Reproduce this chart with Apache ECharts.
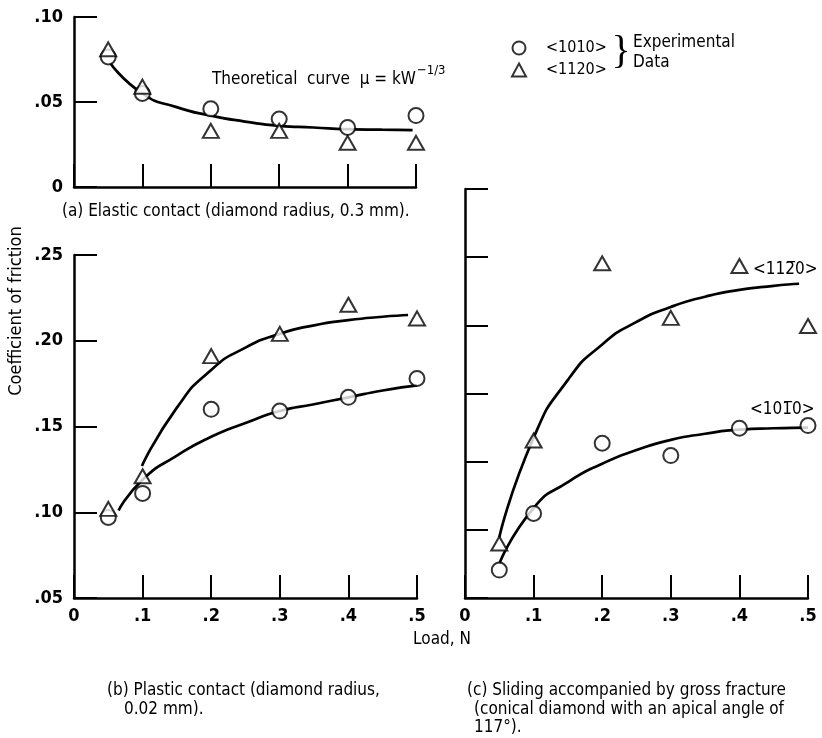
<!DOCTYPE html>
<html>
<head>
<meta charset="utf-8">
<title>Coefficient of friction vs load</title>
<script src="https://cdn.jsdelivr.net/npm/echarts@6/dist/echarts.min.js"></script>
<style>
  html, body { margin: 0; padding: 0; background: #fff; }
  #main { width: 822px; height: 738px; }
</style>
</head>
<body>
<div id="main"></div>
<script>
// loads (N) where the measurements were taken
var loads = [0.05, 0.1, 0.2, 0.3, 0.4, 0.5];

// (a) elastic contact
var aCircle   = [0.0765, 0.055, 0.046, 0.040, 0.035, 0.042];
var aTriangle = [0.081, 0.059, 0.033, 0.033, 0.026, 0.026];
var aCurve = [[0.053, 0.073], [0.1, 0.055], [0.15, 0.047], [0.2, 0.042], [0.25, 0.0385],
              [0.3, 0.036], [0.35, 0.035], [0.4, 0.034], [0.45, 0.0337], [0.495, 0.0335]];

// (b) plastic contact
var bCircle   = [0.097, 0.111, 0.160, 0.159, 0.167, 0.178];
var bTriangle = [0.102, 0.121, 0.191, 0.204, 0.221, 0.213];
var bCurveTri = [[0.099, 0.127], [0.15, 0.161], [0.2, 0.183], [0.25, 0.196], [0.3, 0.204],
                 [0.35, 0.209], [0.4, 0.212], [0.45, 0.214], [0.487, 0.215]];
var bCurveCir = [[0.065, 0.101], [0.1, 0.119], [0.15, 0.133], [0.2, 0.144], [0.25, 0.152],
                 [0.3, 0.159], [0.35, 0.163], [0.4, 0.167], [0.45, 0.171], [0.5, 0.174]];

// (c) gross fracture (unlabelled y scale, tick units)
var cCircle   = [0.41, 1.24, 2.27, 2.09, 2.49, 2.53];
var cTriangle = [0.80, 2.31, 4.91, 4.11, 4.87, 3.99];
var cCurveTri = [[0.05, 0.89], [0.1, 2.35], [0.15, 3.2], [0.2, 3.72], [0.25, 4.05],
                 [0.3, 4.27], [0.35, 4.42], [0.4, 4.52], [0.45, 4.58], [0.487, 4.61]];
var cCurveCir = [[0.05, 0.5], [0.1, 1.32], [0.15, 1.7], [0.2, 1.97], [0.25, 2.17],
                 [0.3, 2.32], [0.35, 2.41], [0.4, 2.47], [0.45, 2.49], [0.5, 2.5]];

var FONT = '"Liberation Sans Narrow", "DejaVu Sans Condensed", "Liberation Sans", sans-serif';

function pairs(ys) {
  return loads.map(function (x, i) { return [x, ys[i]]; });
}
function fmtX(v) { return v === 0 ? '0' : v.toFixed(1).replace(/^0/, ''); }
function fmtY(v) { return v === 0 ? '0' : v.toFixed(2).replace(/^0/, ''); }

function xAxis(gi, showLabel) {
  return {
    type: 'value', gridIndex: gi, min: 0, max: 0.5, interval: 0.1,
    axisLine: { onZero: false, lineStyle: { color: '#000', width: 2.5 } },
    axisTick: { inside: true, length: 23, lineStyle: { color: '#000', width: 2 } },
    splitLine: { show: false },
    axisLabel: { show: showLabel, formatter: fmtX, color: '#000', fontSize: 18,
                 fontWeight: 'bold', fontFamily: FONT, margin: 9 }
  };
}
function yAxis(gi, min, max, step, showLabel) {
  return {
    type: 'value', gridIndex: gi, min: min, max: max, interval: step,
    axisLine: { onZero: false, lineStyle: { color: '#000', width: 2.5 } },
    axisTick: { inside: true, length: 23, lineStyle: { color: '#000', width: 2 } },
    splitLine: { show: false },
    axisLabel: { show: showLabel, formatter: fmtY, color: '#000', fontSize: 18,
                 fontWeight: 'bold', fontFamily: FONT, margin: 11 }
  };
}

var markStyle = { color: '#fff', borderColor: '#000', borderWidth: 2 };
function circles(gi, ys) {
  return { name: '<1010>', type: 'scatter', xAxisIndex: gi, yAxisIndex: gi,
           symbol: 'circle', symbolSize: 15, itemStyle: markStyle, z: 5, data: pairs(ys) };
}
function triangles(gi, ys) {
  return { name: '<1120>', type: 'scatter', xAxisIndex: gi, yAxisIndex: gi,
           symbol: 'triangle', symbolSize: [16, 14], itemStyle: markStyle, z: 6, data: pairs(ys) };
}
function curve(gi, pts) {
  return { type: 'line', xAxisIndex: gi, yAxisIndex: gi, smooth: 0.6,
           showSymbol: false, silent: true, lineStyle: { color: '#000', width: 2.7 }, z: 3, data: pts };
}

function label(txt, x, y, size, align, extra) {
  var o = { type: 'text', x: x, y: y,
            style: { text: txt, font: size + 'px ' + FONT, fill: '#000',
                     textAlign: align || 'left', textVerticalAlign: 'middle' } };
  if (extra) { for (var k in extra) o[k] = extra[k]; }
  return o;
}

// width of the formula text, so the exponent sits right after it
var theory = 'Theoretical  curve  \u03bc = kW';
var ctx = document.createElement('canvas').getContext('2d');
ctx.font = '17px ' + FONT;
var theoryEnd = 212 + ctx.measureText(theory).width + 1;

var chart = echarts.init(document.getElementById('main'));
chart.setOption({
  animation: false,
  backgroundColor: '#fff',
  grid: [
    { left: 74, top: 17, width: 342, height: 170 },
    { left: 74, top: 255, width: 343, height: 343 },
    { left: 465, top: 189, width: 343, height: 409 }
  ],
  xAxis: [xAxis(0, false), xAxis(1, true), xAxis(2, true)],
  yAxis: [yAxis(0, 0, 0.1, 0.05, true), yAxis(1, 0.05, 0.25, 0.05, true), yAxis(2, 0, 6, 1, false)],
  legend: {
    orient: 'vertical', left: 506, top: 35, itemWidth: 14, itemHeight: 13, itemGap: 6,
    selectedMode: false, data: ['<1010>', '<1120>'],
    textStyle: { color: '#000', fontSize: 16, fontFamily: FONT, padding: [0, 0, 0, 15] }
  },
  series: [
    curve(0, aCurve), circles(0, aCircle), triangles(0, aTriangle),
    curve(1, bCurveTri), curve(1, bCurveCir), circles(1, bCircle), triangles(1, bTriangle),
    curve(2, cCurveTri), curve(2, cCurveCir), circles(2, cCircle), triangles(2, cTriangle)
  ],
  graphic: [
    { type: 'text', x: 621, y: 52,
      style: { text: '}', font: '40px "Liberation Serif", serif', fill: '#000',
               textAlign: 'center', textVerticalAlign: 'middle' } },
    label('Experimental', 633, 43, 17),
    label('Data', 633, 63, 17),
    label(theory, 212, 80, 17),
    label('\u22121/3', theoryEnd, 71, 13),
    label('(a) Elastic contact (diamond radius, 0.3 mm).', 62, 212, 17),
    label('Coefficient of friction', 16, 311, 18, 'center', { rotation: Math.PI / 2 }),
    label('<11' + '2\u0305' + '0>', 753, 270, 17),
    label('<10' + '1\u0305' + '0>', 750, 410, 17),
    label('Load, N', 442, 640, 17, 'center'),
    label('(b) Plastic contact (diamond radius,', 107, 691, 17),
    label('0.02 mm).', 124, 710, 17),
    label('(c) Sliding accompanied by gross fracture', 467, 691, 17),
    label('(conical diamond with an apical angle of', 474, 710, 17),
    label('117\u00b0).', 474, 728, 17)
  ]
});
</script>
</body>
</html>
